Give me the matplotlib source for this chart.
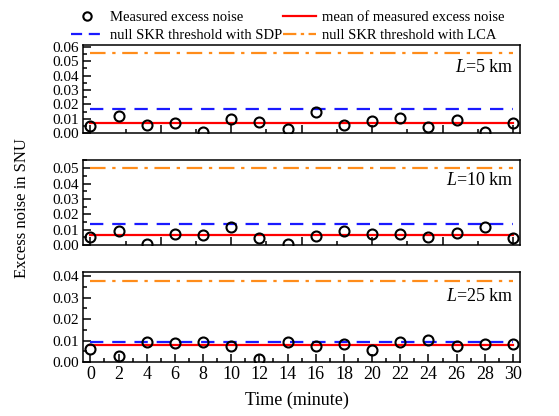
import matplotlib
matplotlib.use("Agg")
import matplotlib.pyplot as plt
from matplotlib.ticker import MultipleLocator, FormatStrFormatter
from matplotlib.lines import Line2D

plt.rcParams['font.family'] = ['Liberation Serif', 'DejaVu Serif']
plt.rcParams['mathtext.fontset'] = 'custom'
plt.rcParams['mathtext.it'] = 'Liberation Serif:italic'
plt.rcParams['mathtext.rm'] = 'Liberation Serif'

time = [0, 2, 4, 6, 8, 10, 12, 14, 16, 18, 20, 22, 24, 26, 28, 30]

noise_5km = [0.0051, 0.0120, 0.0055, 0.0074, 0.0012, 0.0099, 0.0080, 0.0030,
             0.0150, 0.0058, 0.0087, 0.0108, 0.0044, 0.0092, 0.0012, 0.0069]
noise_10km = [0.0050, 0.0091, 0.0009, 0.0070, 0.0063, 0.0115, 0.0043, 0.0004,
              0.0061, 0.0091, 0.0070, 0.0070, 0.0054, 0.0078, 0.0115, 0.0048]
noise_25km = [0.0062, 0.0028, 0.0093, 0.0088, 0.0091, 0.0074, 0.0016, 0.0091,
              0.0074, 0.0082, 0.0057, 0.0093, 0.0104, 0.0073, 0.0085, 0.0085]

mean_vals = [0.0068, 0.0065, 0.0078]
sdp_vals = [0.0166, 0.0137, 0.0093]
lca_vals = [0.0560, 0.0500, 0.0375]
distances = ['5', '10', '25']
ylims = [0.0612, 0.0553, 0.0419]
ytick_max = [0.06, 0.05, 0.04]

series = [noise_5km, noise_10km, noise_25km]

RED = '#ff0000'
BLUE = '#1a1aff'
ORANGE = '#ff8c1a'

fig = plt.figure(figsize=(5.59, 4.16), dpi=100)
W, H = 559, 416
boxes = [(45, 133.3), (160, 245), (272, 362)]
left_px, right_px = 83.3, 520
label_y = [0.74, 0.756, 0.726]

for i, (top, bot) in enumerate(boxes):
    ax = fig.add_axes([left_px / W, 1 - bot / H, (right_px - left_px) / W, (bot - top) / H])
    ax.plot(time, series[i], linestyle='none', marker='o', markersize=7.2,
            markerfacecolor='none', markeredgecolor='black', markeredgewidth=1.5,
            zorder=5, clip_on=True)
    ax.axhline(mean_vals[i], xmin=0.016, xmax=0.984, color=RED, lw=1.6, zorder=4)
    ax.axhline(sdp_vals[i], xmin=0.016, xmax=0.984, color=BLUE, lw=1.6,
               dashes=(6, 4), zorder=3)
    ax.axhline(lca_vals[i], xmin=0.016, xmax=0.984, color=ORANGE, lw=1.6,
               dashes=(7, 3, 1.5, 3), zorder=3)
    ax.set_xlim(-0.5, 30.5)
    ax.set_ylim(0, ylims[i])
    ax.set_yticks([round(k * 0.01, 2) for k in range(int(round(ytick_max[i] / 0.01)) + 1)])
    ax.yaxis.set_major_formatter(FormatStrFormatter('%.2f'))
    ax.yaxis.set_minor_locator(MultipleLocator(0.005))
    if i < 2:
        ax.xaxis.set_major_locator(MultipleLocator(5))
        ax.xaxis.set_minor_locator(MultipleLocator(2.5))
        ax.set_xticklabels([])
    else:
        ax.xaxis.set_major_locator(MultipleLocator(2))
        ax.xaxis.set_minor_locator(MultipleLocator(1))
    ax.tick_params(which='both', direction='in', top=False, right=False, width=1.1)
    ax.tick_params(which='major', length=6)
    ax.tick_params(which='minor', length=3)
    ax.tick_params(axis='x', pad=3, labelsize=13)
    ax.tick_params(axis='y', pad=3, labelsize=11)
    for s in ax.spines.values():
        s.set_linewidth(1.1)
    ax.text(0.985, label_y[i], r'$\mathit{L}$=' + distances[i] + ' km',
            transform=ax.transAxes, ha='right', va='center', fontsize=13)

fig.text(0.039, 0.501, 'Excess noise in SNU', rotation=90, ha='center', va='center',
         fontsize=12)
fig.text(0.531, 0.038, 'Time (minute)', ha='center', va='center', fontsize=13)

handles = [
    Line2D([], [], linestyle='none', marker='o', markersize=6, markerfacecolor='none',
           markeredgecolor='black', markeredgewidth=1.5),
    Line2D([], [], color=BLUE, lw=1.6, dashes=(5, 3)),
    Line2D([], [], color=RED, lw=1.6),
    Line2D([], [], color=ORANGE, lw=1.6, dashes=(6, 2, 1.5, 2)),
]
labels = ['Measured excess noise', 'null SKR threshold with SDP',
          'mean of measured excess noise', 'null SKR threshold with LCA']
fig.legend(handles, labels, ncol=2, loc='center', bbox_to_anchor=(0.515, 0.937),
           frameon=False, fontsize=10.5, handlelength=2.2, handletextpad=0.45,
           columnspacing=0.1, labelspacing=0.35, borderaxespad=0)

fig.savefig('out.png', dpi=100)
